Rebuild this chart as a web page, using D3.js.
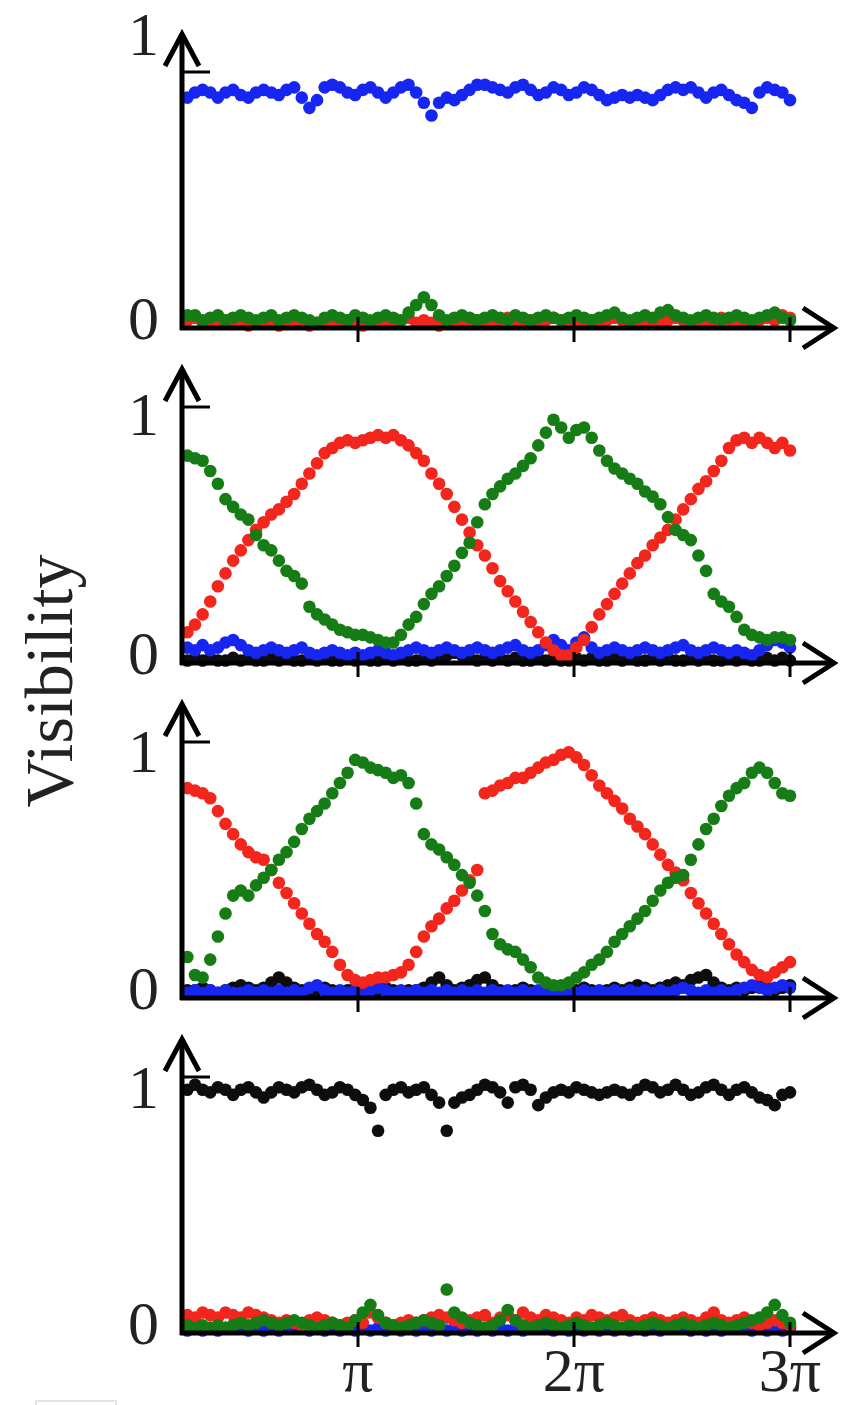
<!DOCTYPE html>
<html><head><meta charset="utf-8">
<script src="https://cdn.jsdelivr.net/npm/d3@7"></script>
<style>html,body{margin:0;padding:0;background:#fff;}svg{display:block;}
text{font-family:"Liberation Serif","Times New Roman",Times,serif;}</style>
</head><body>
<svg id="chart" width="843" height="1405"></svg>
<script>
// ---------- DATA ----------
const xTickValues = [Math.PI, 2*Math.PI, 3*Math.PI];
const xTickLabels = ["π", "2π", "3π"];
const yTickLabels = ["0", "1"];
const yAxisTitle = "Visibility";
const phaseStart = 0.21*Math.PI, phaseEnd = 3*Math.PI, nSamples = 80;

// Panel 1
const p1Blue = [0.90,0.92,0.93,0.92,0.90,0.92,0.93,0.91,0.90,0.92, 0.93,0.92,0.91,0.93,0.94,0.90,0.86,0.89,0.94,0.95,
0.94,0.92,0.91,0.93,0.94,0.92,0.90,0.92,0.94,0.95, 0.92,0.88,0.83,0.88,0.90,0.89,0.91,0.93,0.95,0.95,
0.94,0.93,0.92,0.94,0.95,0.93,0.91,0.92,0.94,0.93, 0.91,0.92,0.94,0.93,0.91,0.89,0.90,0.91,0.90,0.91,
0.90,0.89,0.91,0.93,0.94,0.93,0.94,0.92,0.90,0.92, 0.93,0.91,0.89,0.88,0.86,0.92,0.94,0.93,0.92,0.89];
const p1Red = [0.03,0.04,0.02,0.03,0.02,0.03,0.02,0.02,0.01,0.02, 0.03,0.02,0.01,0.02,0.03,0.02,0.01,0.02,0.03,0.02,
0.02,0.03,0.02,0.01,0.02,0.03,0.02,0.02,0.03,0.04, 0.02,0.03,0.02,0.01,0.02,0.03,0.02,0.02,0.03,0.02,
0.02,0.03,0.04,0.03,0.02,0.03,0.02,0.03,0.04,0.03, 0.02,0.03,0.02,0.03,0.02,0.03,0.04,0.03,0.02,0.03,
0.02,0.03,0.02,0.03,0.04,0.03,0.02,0.03,0.02,0.03, 0.04,0.03,0.02,0.03,0.02,0.03,0.04,0.03,0.05,0.04];
const p1Green = [0.05,0.05,0.03,0.04,0.05,0.03,0.04,0.05,0.04,0.03, 0.04,0.05,0.03,0.04,0.05,0.04,0.03,0.02,0.04,0.05,
0.04,0.03,0.05,0.04,0.03,0.04,0.05,0.04,0.03,0.06, 0.09,0.12,0.09,0.05,0.03,0.04,0.05,0.04,0.03,0.04,
0.05,0.04,0.03,0.05,0.04,0.03,0.04,0.05,0.04,0.03, 0.04,0.05,0.04,0.03,0.04,0.05,0.06,0.04,0.03,0.04,
0.05,0.04,0.06,0.07,0.05,0.04,0.03,0.04,0.05,0.04, 0.03,0.04,0.05,0.04,0.03,0.04,0.05,0.06,0.04,0.03];

// Panel 2
const p2Black = [0.01,0.02,0.01,0.02,0.01,0.01,0.02,0.01,0.02,0.01, 0.01,0.02,0.01,0.02,0.01,0.01,0.02,0.01,0.02,0.01,
0.01,0.02,0.01,0.02,0.01,0.01,0.02,0.01,0.02,0.01, 0.01,0.02,0.01,0.02,0.03,0.04,0.03,0.02,0.01,0.02,
0.01,0.02,0.01,0.02,0.01,0.01,0.02,0.01,0.02,0.01, 0.01,0.02,0.01,0.02,0.01,0.01,0.02,0.01,0.02,0.01,
0.01,0.02,0.01,0.02,0.01,0.01,0.02,0.01,0.02,0.01, 0.01,0.02,0.01,0.02,0.01,0.01,0.02,0.01,0.02,0.01];
const p2Blue = [0.06,0.05,0.07,0.05,0.06,0.08,0.09,0.07,0.05,0.04, 0.05,0.06,0.05,0.04,0.05,0.06,0.04,0.03,0.04,0.05,
0.04,0.03,0.04,0.03,0.04,0.05,0.04,0.03,0.04,0.05, 0.06,0.05,0.04,0.05,0.06,0.05,0.04,0.05,0.06,0.05,
0.04,0.05,0.06,0.07,0.05,0.04,0.05,0.07,0.09,0.07, 0.05,0.08,0.10,0.06,0.04,0.05,0.06,0.05,0.04,0.05,
0.06,0.05,0.04,0.05,0.06,0.07,0.05,0.04,0.05,0.06, 0.05,0.04,0.05,0.04,0.03,0.05,0.07,0.09,0.08,0.06];
const p2Red = [0.12,0.15,0.19,0.24,0.30,0.35,0.40,0.44,0.48,0.52, 0.55,0.58,0.60,0.63,0.66,0.70,0.74,0.78,0.82,0.84,
0.86,0.87,0.86,0.87,0.88,0.89,0.88,0.89,0.87,0.85, 0.82,0.79,0.74,0.70,0.66,0.61,0.56,0.51,0.46,0.42,
0.37,0.32,0.28,0.24,0.20,0.16,0.12,0.08,0.05,0.03, 0.03,0.06,0.09,0.14,0.19,0.23,0.27,0.31,0.35,0.39,
0.42,0.46,0.49,0.52,0.56,0.60,0.64,0.68,0.71,0.75, 0.79,0.84,0.87,0.88,0.86,0.88,0.86,0.84,0.86,0.83];
const p2Green = [0.81,0.80,0.79,0.75,0.70,0.64,0.61,0.58,0.56,0.50, 0.46,0.44,0.40,0.36,0.34,0.31,0.22,0.19,0.17,0.15,
0.13,0.12,0.11,0.11,0.10,0.09,0.08,0.08,0.11,0.15, 0.18,0.23,0.27,0.30,0.34,0.38,0.43,0.47,0.55,0.62,
0.66,0.69,0.72,0.74,0.77,0.80,0.85,0.90,0.95,0.92, 0.88,0.91,0.92,0.88,0.83,0.79,0.76,0.74,0.72,0.70,
0.67,0.65,0.62,0.57,0.52,0.50,0.48,0.42,0.36,0.27, 0.24,0.22,0.18,0.13,0.11,0.10,0.09,0.10,0.10,0.09];

// Panel 3
const p3Black = [0.03,0.03,0.04,0.03,0.02,0.03,0.04,0.05,0.04,0.03, 0.04,0.06,0.08,0.06,0.04,0.03,0.02,0.03,0.04,0.03,
0.02,0.03,0.04,0.03,0.02,0.03,0.04,0.03,0.02,0.03, 0.03,0.04,0.06,0.08,0.05,0.03,0.04,0.05,0.07,0.08,
0.05,0.03,0.02,0.03,0.04,0.03,0.02,0.03,0.04,0.03, 0.02,0.03,0.04,0.03,0.02,0.03,0.04,0.03,0.04,0.05,
0.04,0.03,0.04,0.05,0.06,0.05,0.07,0.08,0.09,0.06, 0.04,0.03,0.04,0.03,0.04,0.05,0.04,0.03,0.04,0.05];
const p3Blue = [0.02,0.03,0.02,0.03,0.02,0.03,0.02,0.02,0.03,0.02, 0.03,0.02,0.03,0.02,0.03,0.02,0.04,0.05,0.03,0.02,
0.03,0.02,0.03,0.02,0.03,0.04,0.03,0.02,0.03,0.02, 0.03,0.02,0.03,0.02,0.03,0.02,0.03,0.02,0.03,0.02,
0.03,0.02,0.03,0.02,0.03,0.02,0.03,0.02,0.03,0.02, 0.03,0.02,0.03,0.02,0.03,0.02,0.03,0.02,0.03,0.02,
0.03,0.02,0.03,0.02,0.03,0.04,0.03,0.02,0.03,0.02, 0.03,0.02,0.03,0.04,0.05,0.04,0.03,0.04,0.05,0.04];
const p3Red = [0.82,0.81,0.80,0.78,0.73,0.68,0.64,0.60,0.57,0.55, 0.54,0.50,0.45,0.41,0.37,0.33,0.29,0.25,0.22,0.18,
0.13,0.09,0.07,0.06,0.07,0.08,0.08,0.09,0.10,0.13, 0.18,0.24,0.28,0.31,0.35,0.38,0.42,0.46,0.50,0.80,
0.81,0.83,0.84,0.86,0.86,0.88,0.90,0.92,0.93,0.95, 0.96,0.94,0.91,0.87,0.83,0.80,0.77,0.74,0.70,0.67,
0.64,0.60,0.56,0.52,0.49,0.46,0.41,0.37,0.33,0.29, 0.25,0.21,0.17,0.14,0.11,0.09,0.08,0.10,0.12,0.14];
const p3Green = [0.16,0.09,0.08,0.15,0.24,0.33,0.40,0.42,0.40,0.44, 0.47,0.50,0.54,0.57,0.61,0.66,0.70,0.73,0.76,0.80,
0.84,0.88,0.93,0.92,0.90,0.89,0.88,0.86,0.87,0.84, 0.76,0.64,0.60,0.58,0.55,0.52,0.48,0.45,0.40,0.34,
0.25,0.21,0.19,0.18,0.15,0.12,0.08,0.06,0.05,0.05, 0.06,0.08,0.10,0.13,0.15,0.18,0.22,0.25,0.28,0.31,
0.34,0.38,0.42,0.45,0.47,0.48,0.54,0.60,0.66,0.70, 0.75,0.79,0.82,0.84,0.88,0.90,0.88,0.84,0.80,0.79];

// Panel 4
const p4Black = [0.95,0.97,0.95,0.94,0.96,0.95,0.93,0.95,0.96,0.94, 0.92,0.94,0.96,0.95,0.94,0.96,0.97,0.95,0.93,0.94,
0.96,0.95,0.93,0.91,0.88,0.79,0.93,0.95,0.96,0.94, 0.95,0.96,0.93,0.90,0.79,0.90,0.92,0.93,0.95,0.97,
0.96,0.94,0.90,0.96,0.97,0.95,0.89,0.92,0.94,0.95, 0.94,0.96,0.95,0.94,0.93,0.94,0.95,0.94,0.93,0.95,
0.97,0.96,0.94,0.95,0.97,0.95,0.93,0.94,0.96,0.97, 0.95,0.93,0.95,0.96,0.94,0.92,0.91,0.89,0.93,0.94];
const p4Blue = [0.01,0.02,0.01,0.02,0.01,0.02,0.03,0.02,0.01,0.02, 0.01,0.02,0.01,0.02,0.03,0.02,0.01,0.02,0.01,0.02,
0.01,0.02,0.01,0.02,0.01,0.02,0.01,0.02,0.01,0.02, 0.01,0.02,0.01,0.02,0.01,0.02,0.01,0.02,0.01,0.02,
0.01,0.02,0.01,0.02,0.01,0.02,0.03,0.02,0.01,0.02, 0.01,0.02,0.01,0.02,0.01,0.02,0.01,0.02,0.01,0.02,
0.01,0.02,0.01,0.02,0.03,0.02,0.01,0.02,0.01,0.02, 0.01,0.02,0.03,0.02,0.01,0.02,0.01,0.02,0.01,0.02];
const p4Red = [0.07,0.06,0.08,0.07,0.06,0.08,0.07,0.06,0.08,0.07, 0.06,0.05,0.04,0.05,0.04,0.03,0.05,0.06,0.05,0.04,
0.03,0.04,0.05,0.04,0.08,0.06,0.04,0.03,0.04,0.05, 0.04,0.05,0.06,0.07,0.06,0.05,0.04,0.05,0.06,0.07,
0.04,0.06,0.07,0.05,0.08,0.06,0.05,0.07,0.06,0.05, 0.04,0.06,0.05,0.07,0.06,0.05,0.06,0.07,0.05,0.04,
0.05,0.06,0.05,0.04,0.05,0.06,0.05,0.04,0.06,0.08, 0.05,0.04,0.05,0.06,0.04,0.03,0.04,0.05,0.04,0.03];
const p4Green = [0.03,0.02,0.03,0.02,0.03,0.02,0.03,0.04,0.03,0.04, 0.05,0.04,0.03,0.04,0.05,0.04,0.03,0.02,0.03,0.04,
0.03,0.02,0.05,0.08,0.11,0.07,0.04,0.03,0.02,0.03, 0.04,0.05,0.04,0.03,0.17,0.08,0.06,0.04,0.03,0.02,
0.03,0.05,0.09,0.05,0.03,0.02,0.03,0.04,0.03,0.02, 0.03,0.04,0.03,0.02,0.03,0.04,0.03,0.02,0.03,0.02,
0.03,0.04,0.03,0.02,0.03,0.04,0.03,0.02,0.03,0.04, 0.03,0.02,0.03,0.04,0.05,0.06,0.08,0.11,0.07,0.04];

const colors = {black:"#0a0a0a", blue:"#1428f0", red:"#f2251c", green:"#147d14"};

const panels = [
  {series:[["blue",p1Blue],["red",p1Red],["green",p1Green]]},
  {series:[["black",p2Black],["blue",p2Blue],["red",p2Red],["green",p2Green]]},
  {series:[["black",p3Black],["blue",p3Blue],["red",p3Red],["green",p3Green]]},
  {series:[["black",p4Black],["blue",p4Blue],["red",p4Red],["green",p4Green]]}
];

// ---------- LAYOUT ----------
const svg = d3.select("#chart");
const axisX0 = 182, panelStep = 335, firstAxisY = 328, firstOneY = 72;
const x = d3.scaleLinear().domain([Math.PI, 3*Math.PI]).range([358, 790]);
const phase = d3.range(nSamples).map(i => phaseStart + i*(phaseEnd-phaseStart)/(nSamples-1));
const font = "\"Liberation Serif\", \"Times New Roman\", Times, serif";
const oneLabelDy = [-17, 28, 30, 31];

const defs = svg.append("defs");
defs.append("filter").attr("id","soft").append("feGaussianBlur").attr("stdDeviation",0.7);

panels.forEach((p, k) => {
  const y0 = firstAxisY + k*panelStep, y1 = firstOneY + k*panelStep;
  const y = d3.scaleLinear().domain([0,1]).range([y0, y1]);
  const g = svg.append("g");

  // dots
  const dg = g.append("g").attr("filter","url(#soft)");
  p.series.forEach(([c, vals]) => {
    dg.append("g").selectAll("circle").data(vals).join("circle")
      .attr("cx", (d,i) => x(phase[i])).attr("cy", d => y(d))
      .attr("r", 6.3).attr("fill", colors[c]);
  });

  const ag = g.append("g").attr("stroke","#000").attr("fill","none").attr("filter","url(#soft)");
  const tipY = y(1) - 39;
  // y axis
  ag.append("line").attr("x1",axisX0).attr("x2",axisX0).attr("y1",y(0)+2).attr("y2",tipY+2).attr("stroke-width",5);
  ag.append("path").attr("d",`M${axisX0-17},${tipY+33}L${axisX0},${tipY+1}L${axisX0+17},${tipY+33}`).attr("stroke-width",5);
  // x axis
  const tipX = 835;
  ag.append("line").attr("x1",axisX0-2).attr("x2",tipX-2).attr("y1",y(0)).attr("y2",y(0)).attr("stroke-width",5);
  ag.append("path").attr("d",`M${tipX-32},${y(0)-20}L${tipX-1},${y(0)}L${tipX-32},${y(0)+20}`).attr("stroke-width",5);
  // y=1 tick
  ag.append("line").attr("x1",axisX0).attr("x2",axisX0+28).attr("y1",y(1)).attr("y2",y(1)).attr("stroke-width",3);
  // x ticks
  ag.selectAll("line.xt").data(xTickValues).join("line").attr("class","xt")
    .attr("x1",d=>x(d)).attr("x2",d=>x(d)).attr("y1",y(0)-11).attr("y2",y(0)+14).attr("stroke-width",3);

  // y labels
  g.append("text").attr("x",159).attr("y",y(0)+11).attr("text-anchor","end")
    .style("font-family",font).attr("font-size",62).attr("fill","#222").text(yTickLabels[0]);
  g.append("text").attr("x",159).attr("y",y(1)+oneLabelDy[k]).attr("text-anchor","end")
    .style("font-family",font).attr("font-size",62).attr("fill","#222").text(yTickLabels[1]);

  if (k === panels.length-1) {
    g.selectAll("text.xl").data(xTickValues).join("text").attr("class","xl")
      .attr("x",d=>x(d)).attr("y",1391).attr("text-anchor","middle")
      .style("font-family",font).attr("font-size",62).attr("fill","#222")
      .text((d,i)=>xTickLabels[i]);
  }
});

svg.append("text").attr("transform","translate(72,681) rotate(-90)").attr("text-anchor","middle")
  .style("font-family",font).attr("font-size",68).attr("fill","#222").text(yAxisTitle);

svg.append("rect").attr("x",36).attr("y",1401).attr("width",80).attr("height",10)
  .attr("fill","none").attr("stroke","#ccc").attr("stroke-width",1);
</script>
</body></html>
